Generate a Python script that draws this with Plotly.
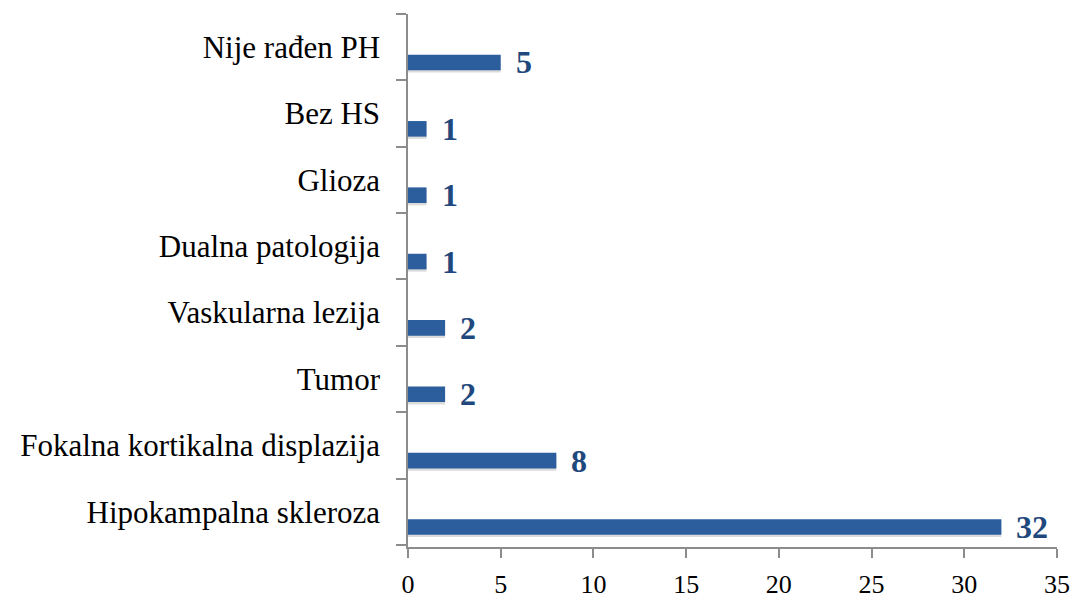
import plotly.graph_objects as go

categories = ["Hipokampalna skleroza", "Fokalna kortikalna displazija", "Tumor",
              "Vaskularna lezija", "Dualna patologija", "Glioza", "Bez HS", "Nije rađen PH"]
values = [32, 8, 2, 2, 1, 1, 1, 5]
x_ticks = [0, 5, 10, 15, 20, 25, 30, 35]

BAR_OFFSET = -0.348
BAR_WIDTH = 0.235
SERIF = "Liberation Serif, Times New Roman, serif"

fig = go.Figure()
# soft shadow
fig.add_trace(go.Bar(
    y=categories, x=values, orientation="h",
    offset=BAR_OFFSET - 0.035, width=BAR_WIDTH,
    marker=dict(color="rgba(0,0,0,0.14)", line=dict(width=0)),
    hoverinfo="skip", showlegend=False,
))
fig.add_trace(go.Bar(
    y=categories, x=values, orientation="h",
    offset=BAR_OFFSET, width=BAR_WIDTH,
    marker=dict(color="#2C5E9E", line=dict(width=0)),
    showlegend=False,
))

for i, v in enumerate(values):
    fig.add_annotation(
        x=v, y=i + BAR_OFFSET + BAR_WIDTH / 2, xref="x", yref="y",
        text=f"<b>{v}</b>", showarrow=False, xanchor="left", yanchor="middle",
        xshift=13, font=dict(family=SERIF, size=32, color="#1F497D"),
    )

fig.update_layout(
    template="none",
    width=1075, height=598,
    margin=dict(l=408, r=18, t=14, b=51, pad=0),
    plot_bgcolor="white", paper_bgcolor="white",
    barmode="overlay",
    xaxis=dict(
        range=[0, 35], tickvals=x_ticks, showgrid=False, zeroline=False,
        automargin=False,
        showline=True, linecolor="#8C8C8C", linewidth=1.5,
        ticks="outside", ticklen=9, tickcolor="#8C8C8C", tickwidth=1.5,
        tickfont=dict(family=SERIF, size=26, color="black"),
        ticklabelstandoff=4,
    ),
    yaxis=dict(
        type="category", categoryorder="array", categoryarray=categories,
        tickson="boundaries", showgrid=False, zeroline=False,
        automargin=False,
        showline=True, linecolor="#8C8C8C", linewidth=1.5,
        ticks="outside", ticklen=10, tickcolor="#8C8C8C", tickwidth=1.5,
        tickfont=dict(family=SERIF, size=31, color="black"),
        ticklabelstandoff=20,
    ),
)

fig.write_html(
    "out.html",
    config={"displayModeBar": False},
    post_script="document.body.style.margin='0';document.body.style.overflow='hidden';",
)
